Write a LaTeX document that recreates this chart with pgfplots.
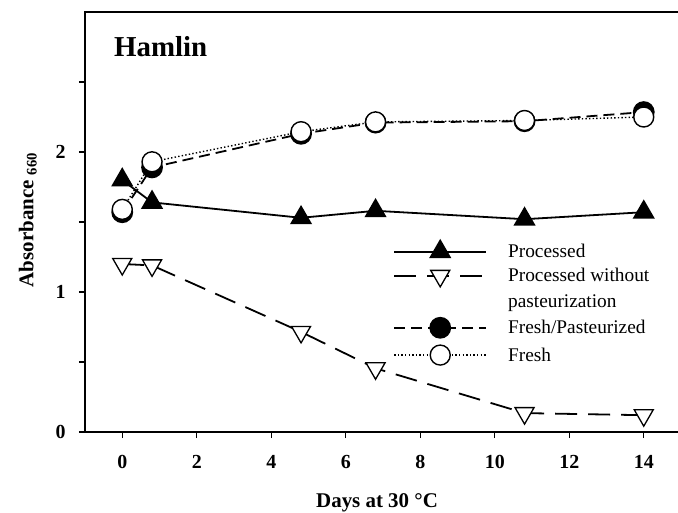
\documentclass[border=0pt]{standalone}
\usepackage{pgfplots}
\pgfplotsset{compat=1.18}
\usepackage{fontspec}
\setmainfont{Liberation Serif}

\pgfplotstableread{
x y
0 1.80
0.8 1.64
4.8 1.53
6.8 1.58
10.8 1.52
14 1.57
}\processed
\pgfplotstableread{
x y
0 1.20
0.8 1.19
4.8 0.715
6.8 0.455
10.8 0.135
14 0.12
}\procnopast
\pgfplotstableread{
x y
0 1.57
0.8 1.89
4.8 2.13
6.8 2.21
10.8 2.22
14 2.285
}\freshpast
\pgfplotstableread{
x y
0 1.59
0.8 1.93
4.8 2.145
6.8 2.215
10.8 2.225
14 2.25
}\fresh

\begin{document}
\begin{tikzpicture}
\useasboundingbox (-85bp,-81bp) rectangle (593bp,432bp);
\begin{axis}[
  scale only axis, width=596bp, height=420bp,
  xmin=-1, xmax=15, ymin=0, ymax=3,
  xtick={0,2,...,14}, ytick={0,1,2}, minor ytick={0.5,1.5,2.5},
  xtick pos=left, ytick pos=left,
  tick align=outside,
  major tick length=6bp, minor tick length=6bp,
  every tick/.style={black, line width=1.2bp},
  axis line style={line width=1.5bp},
  /pgf/number format/assume math mode=true,
  ticklabel style={font=\fontsize{20}{20}\selectfont\bfseries},
  xticklabel style={yshift=-14bp},
  yticklabel style={xshift=-10bp},
  xlabel={Days at 30 °C},
  ylabel={Absorbance \textsubscript{660}},
  xlabel style={font=\fontsize{21}{21}\selectfont\bfseries, at={(axis description cs:0.49,0)}, anchor=center, yshift=-71bp},
  ylabel style={font=\fontsize{21}{21}\selectfont\bfseries, at={(axis description cs:-0.096,0.505)}, anchor=center},
  legend style={at={(rel axis cs:0.517,0.456)}, anchor=north west, draw=none, fill=none,
    font=\fontsize{19.4}{24}\selectfont, row sep=7.3bp, column sep=10bp, inner sep=0pt,
    nodes={inner xsep=11bp, inner ysep=1bp}},
  legend cell align=left,
  legend image code/.code={\draw[mark repeat=2,mark phase=2,#1] plot coordinates {(0bp,0bp)(46bp,0bp)(92bp,0bp)};},
]
\addplot[black, line width=1.8bp, mark=triangle*, mark size=11bp, mark options={solid, fill=black}] table {\processed};
\addlegendentry{Processed}
\addplot[black, line width=1.8bp, dash pattern=on 22bp off 11bp, mark=triangle*, mark size=11bp, mark options={solid, fill=white, rotate=180, line width=1.3bp}] table {\procnopast};
\addlegendentry{Processed without}
\addlegendimage{empty legend}
\addlegendentry{pasteurization}
\addplot[black, line width=1.8bp, dash pattern=on 11bp off 6bp, mark=*, mark size=10bp, mark options={solid, fill=black}] table {\freshpast};
\addlegendentry{Fresh/Pasteurized}
\addplot[black, line width=1.4bp, dash pattern=on 1.4bp off 2.2bp, mark=*, mark size=10bp, mark options={solid, fill=white, line width=1.4bp}] table {\fresh};
\addlegendentry{Fresh}
\node[anchor=west, font=\fontsize{29}{29}\selectfont\bfseries] at (rel axis cs:0.043,0.917) {Hamlin};
\end{axis}
\end{tikzpicture}
\end{document}
